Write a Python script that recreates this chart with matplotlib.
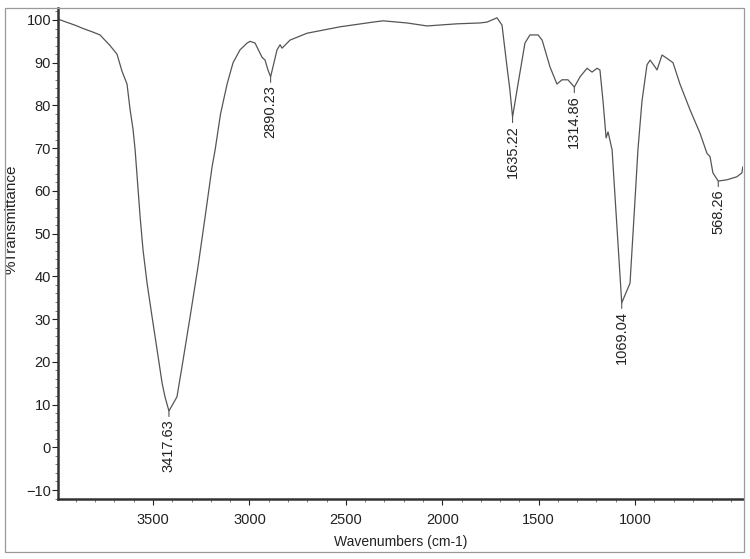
import numpy as np
import matplotlib.pyplot as plt
from matplotlib import font_manager
from matplotlib.patches import Rectangle

# Dados do espectro
wavenumber = [3993, 3950, 3900, 3863, 3820, 3775, 3723, 3687, 3661, 3635,
              3619, 3604, 3593, 3567, 3552, 3531, 3505, 3479, 3453, 3438,
              3417.63, 3376, 3350, 3308, 3267, 3230, 3194, 3178, 3150, 3116,
              3085, 3049, 3012, 2997, 2971, 2935, 2919, 2904, 2890.23, 2857,
              2841, 2831, 2789, 2701, 2530, 2359, 2307, 2183, 2079, 1923,
              1804, 1768, 1716, 1690, 1664, 1650, 1635.22, 1607, 1571, 1545,
              1503, 1482, 1441, 1405, 1379, 1348, 1314.86, 1285, 1249, 1223,
              1197, 1182, 1166, 1150, 1140, 1119, 1069.04, 1026, 1000, 985,
              964, 938, 922, 896, 886, 860, 834, 803, 767, 715,
              663, 627, 611, 596, 568.26, 523, 472, 446, 441]
transmittance = [100.2, 99.5, 98.7, 98.0, 97.3, 96.5, 94.0, 92.0, 88.0, 85.0,
                 79.0, 74.5, 69.6, 53.9, 46.2, 38.4, 30.5, 22.8, 15.0, 11.8,
                 8.5, 11.8, 18.8, 30.5, 42.2, 53.9, 65.6, 69.6, 78.0, 85.0,
                 90.0, 93.0, 94.6, 95.0, 94.6, 91.3, 90.6, 88.3, 86.7, 93.0,
                 94.2, 93.4, 95.3, 96.9, 98.4, 99.5, 99.8, 99.3, 98.6, 99.1,
                 99.3, 99.5, 100.5, 98.8, 89.0, 84.0, 77.3, 85.0, 94.6, 96.5,
                 96.5, 95.3, 89.0, 85.0, 86.0, 86.0, 84.3, 86.7, 88.7, 87.8,
                 88.7, 88.3, 81.0, 72.4, 73.8, 69.6, 33.8, 38.4, 58.0, 69.6,
                 81.0, 89.5, 90.6, 89.0, 88.3, 91.8, 91.0, 90.0, 85.0, 79.0,
                 73.5, 68.8, 68.0, 64.2, 62.3, 62.6, 63.3, 64.2, 65.6]

# Picos marcados
peak_wn = [3417.63, 2890.23, 1635.22, 1314.86, 1069.04, 568.26]
peak_t = [8.5, 86.7, 77.3, 84.3, 33.8, 62.3]
peak_labels = ['3417.63', '2890.23', '1635.22', '1314.86', '1069.04', '568.26']

yticks = [-10, 0, 10, 20, 30, 40, 50, 60, 70, 80, 90, 100]
xticks = [3500, 3000, 2500, 2000, 1500, 1000]

# fonte estreita se existir
try:
    font_manager.findfont('Liberation Sans Narrow', fallback_to_default=False)
    narrow = True
    plt.rcParams['font.family'] = ['Liberation Sans Narrow', 'DejaVu Sans']
except Exception:
    narrow = False
    plt.rcParams['font.family'] = ['Liberation Sans', 'DejaVu Sans']

tick_fs = 11.5 if narrow else 10.5

fig = plt.figure(figsize=(7.5, 5.59), dpi=100)
ax = fig.add_axes([58 / 750, 60 / 559, 685 / 750, 491 / 559])

ax.plot(wavenumber, transmittance, color='#555555', lw=0.9)

for wn, t, lab in zip(peak_wn, peak_t, peak_labels):
    ax.annotate(lab, xy=(wn, t), xytext=(0, -6), textcoords='offset points',
                rotation=90, ha='center', va='top', fontsize=10.5, color='#222222',
                arrowprops=dict(arrowstyle='-', color='#555555', lw=0.8,
                                shrinkA=0, shrinkB=0))

ax.set_xlim(3993, 440)
ax.set_ylim(-12.1, 102.8)
ax.set_xticks(xticks)
ax.set_yticks(yticks)
ax.set_yticks(np.arange(-12, 103, 2), minor=True)
ax.set_xticks(np.arange(500, 4000, 100), minor=True)
ax.tick_params(axis='both', which='major', labelsize=tick_fs, colors='#222222',
               length=4, width=0.8, pad=1)
ax.tick_params(axis='both', which='minor', length=2, width=0.6, colors='#666666')
ax.tick_params(axis='x', which='major', pad=6)

ax.set_xlabel('Wavenumbers (cm-1)', fontsize=10, color='#222222', labelpad=6)
ax.set_ylabel('%Transmittance', fontsize=11, color='#222222')
ax.yaxis.set_label_coords(-0.057, 0.57)

for s in ['top', 'right']:
    ax.spines[s].set_visible(False)
for s in ['left', 'bottom']:
    ax.spines[s].set_linewidth(1.8)
    ax.spines[s].set_color('#333333')

# moldura externa
fig.patches.append(Rectangle((5 / 750, 7 / 559), 739 / 750, 544 / 559,
                             transform=fig.transFigure, fill=False,
                             edgecolor='#999999', lw=0.9))

fig.savefig('out.png', dpi=100)
